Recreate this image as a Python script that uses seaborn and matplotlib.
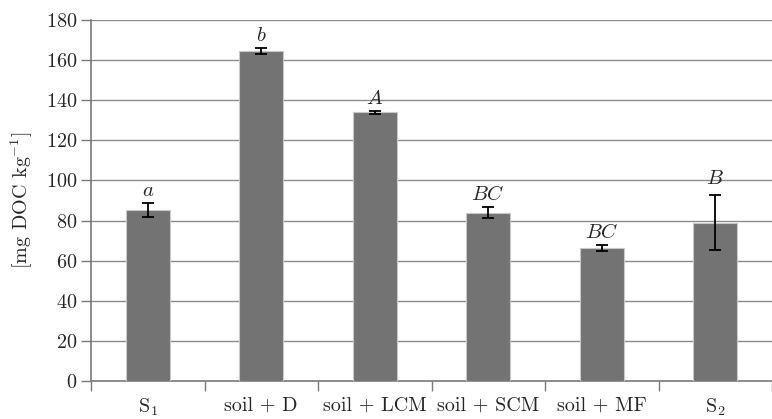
import matplotlib
matplotlib.use("Agg")
import matplotlib.pyplot as plt
import numpy as np
import pandas as pd
import seaborn as sns

# data
treatments = ["$\\mathrm{S_1}$", "soil + D", "soil + LCM", "soil + SCM", "soil + MF", "$\\mathrm{S_2}$"]
doc_mean = [85.3, 164.5, 134.0, 84.0, 66.5, 79.0]
doc_err = [3.5, 1.3, 0.7, 2.8, 1.5, 13.5]
letters = ["a", "b", "A", "BC", "BC", "B"]
letter_gap = [1.5, 1.5, 1.5, 1.5, 1.5, 3.5]

df = pd.DataFrame({"treatment": treatments, "doc": doc_mean})

sns.set_style("white")
plt.rcParams["font.family"] = ["cmr10", "DejaVu Serif"]
plt.rcParams["mathtext.fontset"] = "cm"
plt.rcParams["axes.formatter.use_mathtext"] = True

fig = plt.figure(figsize=(7.72, 4.19), dpi=100)
ax = fig.add_axes([91 / 772, 1 - 381 / 419, 681 / 772, 361 / 419])

sns.barplot(data=df, x="treatment", y="doc", color="#737373", width=0.39,
            edgecolor="#c8c8c8", linewidth=0.8, saturation=1, ax=ax, zorder=3)
x = np.arange(len(treatments))
ax.errorbar(x, doc_mean, yerr=doc_err, fmt="none", ecolor="black",
            elinewidth=1.3, capsize=4.5, capthick=1.3, zorder=4)

for xi, m, e, g, lab in zip(x, doc_mean, doc_err, letter_gap, letters):
    ax.text(xi, m + e + g, "$\\it{" + lab + "}$", ha="center", va="bottom",
            fontsize=15)

ax.set_ylim(0, 180)
ax.set_yticks(range(0, 181, 20))
ax.set_xlim(-0.5, 5.38)
ax.yaxis.grid(True, color="#8c8c8c", linewidth=1.0, zorder=0)
ax.set_axisbelow(True)

# tick marks at category boundaries, labels at centres
ax.set_xticks(x)
ax.set_xticks(np.arange(-0.5, 5.6, 1), minor=True)
ax.tick_params(axis="x", which="major", bottom=True, length=0, pad=11,
               labelsize=14.5)
ax.tick_params(axis="x", which="minor", bottom=True, length=7, width=1,
               color="#7a7a7a", direction="out")
ax.tick_params(axis="y", left=True, length=7, width=1, color="#7a7a7a",
               direction="out", labelsize=14.5, pad=3)
ax.set_xlabel("")
ax.set_ylabel("[mg DOC kg$^{-1}$]", fontsize=14.5, labelpad=8)

for side in ["top", "right"]:
    ax.spines[side].set_visible(False)
for side in ["left", "bottom"]:
    ax.spines[side].set_color("#7a7a7a")
    ax.spines[side].set_linewidth(1.2)

fig.savefig("out.png", dpi=100)
